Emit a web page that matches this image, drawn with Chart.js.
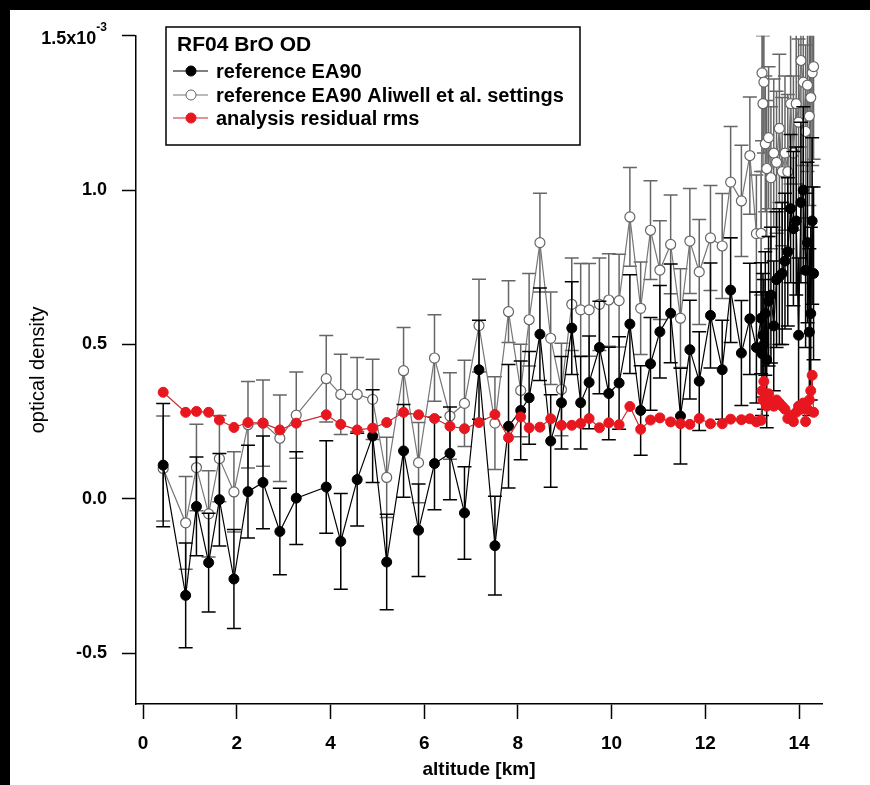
<!DOCTYPE html>
<html>
<head>
<meta charset="utf-8">
<script src="https://cdn.jsdelivr.net/npm/chart.js@4.4.1/dist/chart.umd.min.js"></script>
<style>
  html, body { margin: 0; padding: 0; background: #000; }
  #wrap { position: absolute; left: 10px; top: 10px; width: 860px; height: 775px; background: #fff; }
</style>
</head>
<body>
<div id="wrap"><canvas id="odChart" width="860" height="775"></canvas></div>
<script>
const FONT = "'Liberation Sans', Arial, sans-serif";

// altitude of each spectrum [km]
const altitude = [
  0.43, 0.91, 1.14, 1.40, 1.63, 1.94, 2.24, 2.56, 2.92, 3.27,
  3.91, 4.22, 4.57, 4.90, 5.20, 5.56, 5.88, 6.22, 6.55, 6.86,
  7.17, 7.51, 7.80, 8.06, 8.24, 8.47, 8.70, 8.93, 9.15, 9.34,
  9.52, 9.74, 9.94, 10.16, 10.39, 10.62, 10.83, 11.03, 11.26, 11.47,
  11.67, 11.87, 12.11, 12.36, 12.54, 12.77, 12.95, 13.09, 13.19,
  13.21, 13.23, 13.25, 13.28, 13.31, 13.35, 13.40, 13.46, 13.52, 13.58,
  13.64, 13.70, 13.76, 13.82, 13.88, 13.94, 13.99, 14.04, 14.09, 14.14,
  14.18, 14.22, 14.25, 14.28, 14.31
];

// optical density x 1e-3
const ea90 = [
  0.109, -0.313, -0.025, -0.207, -0.003, -0.26, 0.023, 0.053, -0.106, 0.002,
  0.038, -0.138, 0.062, 0.203, -0.205, 0.155, -0.102, 0.114, 0.147, -0.046,
  0.418, -0.152, 0.235, 0.286, 0.327, 0.533, 0.187, 0.311, 0.553, 0.311,
  0.377, 0.49, 0.341, 0.375, 0.566, 0.286, 0.437, 0.541, 0.601, 0.268,
  0.483, 0.381, 0.594, 0.418, 0.676, 0.472, 0.583, 0.49, 0.585,
  0.47, 0.53, 0.50, 0.60, 0.45, 0.64, 0.66, 0.56, 0.71, 0.72,
  0.73, 0.77, 0.80, 0.94, 0.875, 0.90, 0.53, 0.96, 1.0, 0.74,
  0.83, 0.54, 0.60, 0.90, 0.73
];
const ea90Err = [
  0.20, 0.17, 0.16, 0.16, 0.15, 0.16, 0.15, 0.15, 0.14, 0.15,
  0.15, 0.155, 0.15, 0.15, 0.155, 0.15, 0.15, 0.15, 0.15, 0.15,
  0.16, 0.16, 0.20, 0.16, 0.15, 0.15, 0.15, 0.15, 0.15, 0.15,
  0.15, 0.15, 0.15, 0.15, 0.16, 0.145, 0.15, 0.15, 0.16, 0.155,
  0.16, 0.16, 0.17, 0.16, 0.17, 0.17, 0.18, 0.18, 0.18,
  0.20, 0.20, 0.21, 0.20, 0.22, 0.21, 0.22, 0.21, 0.22, 0.22,
  0.23, 0.22, 0.24, 0.24, 0.25, 0.24, 0.25, 0.26, 0.27, 0.25,
  0.26, 0.27, 0.28, 0.27, 0.28
];

const aliwell = [
  0.098, -0.078, 0.101, -0.049, 0.13, 0.022, 0.24, 0.245, 0.196, 0.271,
  0.389, 0.338, 0.338, 0.322, 0.069, 0.415, 0.117, 0.456, 0.268, 0.309,
  0.561, 0.245, 0.606, 0.351, 0.58, 0.83, 0.52, 0.354, 0.63, 0.612,
  0.612, 0.63, 0.644, 0.642, 0.913, 0.617, 0.87, 0.741, 0.824, 0.585,
  0.835, 0.735, 0.845, 0.819, 1.026, 0.965, 1.112, 0.859, 0.86,
  1.38, 1.28, 1.35, 1.15, 1.07, 1.17, 1.04, 1.12, 1.09, 1.20,
  1.06, 1.12, 1.06, 1.28, 1.12, 1.28, 1.22, 1.42, 1.35, 1.19,
  1.34, 1.24, 1.30, 1.38, 1.40
];
const aliwellErr = [
  0.17, 0.15, 0.14, 0.14, 0.14, 0.13, 0.14, 0.14, 0.14, 0.14,
  0.14, 0.13, 0.12, 0.13, 0.13, 0.14, 0.13, 0.14, 0.14, 0.14,
  0.15, 0.15, 0.10, 0.15, 0.15, 0.16, 0.15, 0.15, 0.15, 0.15,
  0.15, 0.15, 0.15, 0.15, 0.16, 0.15, 0.16, 0.16, 0.16, 0.16,
  0.17, 0.17, 0.17, 0.17, 0.18, 0.18, 0.19, 0.19, 0.20,
  0.22, 0.22, 0.23, 0.22, 0.22, 0.23, 0.23, 0.24, 0.23, 0.24,
  0.24, 0.25, 0.25, 0.26, 0.25, 0.26, 0.27, 0.28, 0.27, 0.28,
  0.28, 0.29, 0.29, 0.30, 0.30
];

const residualRms = [
  0.345, 0.28, 0.283, 0.28, 0.255, 0.231, 0.247, 0.245, 0.223, 0.245,
  0.272, 0.241, 0.223, 0.229, 0.247, 0.28, 0.272, 0.26, 0.235, 0.227,
  0.247, 0.273, 0.198, 0.265, 0.23, 0.232, 0.259, 0.238, 0.238, 0.244,
  0.26, 0.23, 0.246, 0.24, 0.299, 0.225, 0.255, 0.262, 0.249, 0.243,
  0.241, 0.26, 0.243, 0.243, 0.258, 0.256, 0.259, 0.249, 0.254,
  0.35, 0.32, 0.38, 0.33, 0.30, 0.34, 0.31, 0.30, 0.32, 0.31,
  0.30, 0.29, 0.26, 0.27, 0.25, 0.28, 0.30, 0.29, 0.31, 0.25,
  0.29, 0.32, 0.35, 0.40, 0.28
];

const xTicks = [0, 2, 4, 6, 8, 10, 12, 14];
const yTicks = [-0.5, 0, 0.5, 1.0, 1.5];
const yTickLabels = ['-0.5', '0.0', '0.5', '1.0', '1.5x10'];
const yExponent = '-3';
const legendTitle = 'RF04 BrO OD';

const toPoints = (xs, ys) => xs.map((x, i) => ({ x: x, y: ys[i] }));

// vertical error bars with caps, drawn under each dataset's own markers
const errorBars = {
  id: 'errorBars',
  beforeDatasetDraw(chart, args) {
    const ds = chart.data.datasets[args.index];
    if (!ds.errors) return;
    const { ctx, chartArea, scales: { x, y } } = chart;
    ctx.save();
    ctx.beginPath();
    ctx.rect(chartArea.left, chartArea.top, chartArea.right - chartArea.left, chartArea.bottom - chartArea.top);
    ctx.clip();
    ctx.strokeStyle = ds.errorColor;
    ctx.lineWidth = 1.5;
    ds.data.forEach((p, i) => {
      const px = x.getPixelForValue(p.x);
      const top = y.getPixelForValue(p.y + ds.errors[i]);
      const bot = y.getPixelForValue(p.y - ds.errors[i]);
      ctx.beginPath();
      ctx.moveTo(px, top); ctx.lineTo(px, bot);
      ctx.moveTo(px - 7, top); ctx.lineTo(px + 7, top);
      ctx.moveTo(px - 7, bot); ctx.lineTo(px + 7, bot);
      ctx.stroke();
    });
    ctx.restore();
  }
};

// legend box in the top-left corner of the plot + the 1.5x10^-3 tick label
const decorations = {
  id: 'decorations',
  afterDraw(chart) {
    const { ctx, scales: { y } } = chart;
    ctx.save();

    // top tick label with exponent
    const py = y.getPixelForValue(yTicks[yTicks.length - 1]);
    const right = y.right - 14 - 15;
    ctx.fillStyle = '#000';
    ctx.textBaseline = 'middle';
    ctx.textAlign = 'right';
    ctx.font = 'bold 12px ' + FONT;
    const expW = ctx.measureText(yExponent).width;
    ctx.fillText(yExponent, right, py - 8);
    ctx.font = 'bold 18px ' + FONT;
    ctx.fillText(yTickLabels[yTickLabels.length - 1], right - expW, py + 3);

    // legend
    ctx.fillStyle = '#fff';
    ctx.fillRect(156, 17, 414, 118);
    ctx.strokeStyle = '#000';
    ctx.lineWidth = 1.5;
    ctx.strokeRect(156, 17, 414, 118);

    ctx.fillStyle = '#000';
    ctx.textAlign = 'left';
    ctx.font = 'bold 21px ' + FONT;
    ctx.fillText(legendTitle, 167, 35);

    ctx.font = 'bold 20px ' + FONT;
    const rows = [61, 85, 108];
    chart.data.datasets.forEach((ds, i) => {
      const ly = rows[i];
      ctx.strokeStyle = ds.borderColor;
      ctx.lineWidth = 1.2;
      ctx.beginPath();
      ctx.moveTo(163, ly); ctx.lineTo(198, ly);
      ctx.stroke();
      ctx.beginPath();
      ctx.arc(181, ly, 5, 0, Math.PI * 2);
      ctx.fillStyle = ds.pointBackgroundColor;
      ctx.fill();
      ctx.strokeStyle = ds.pointBorderColor;
      ctx.lineWidth = 1;
      ctx.stroke();
      ctx.fillStyle = '#000';
      ctx.fillText(ds.label, 206, ly + 1);
    });
    ctx.restore();
  }
};

const ctx = document.getElementById('odChart').getContext('2d');

new Chart(ctx, {
  type: 'scatter',
  data: {
    datasets: [
      {
        label: 'reference EA90',
        data: toPoints(altitude, ea90),
        errors: ea90Err,
        errorColor: '#000',
        showLine: true,
        borderColor: '#000',
        borderWidth: 1.2,
        pointRadius: 5,
        pointBackgroundColor: '#000',
        pointBorderColor: '#000',
        pointBorderWidth: 1,
        order: 1
      },
      {
        label: 'reference EA90 Aliwell et al. settings',
        data: toPoints(altitude, aliwell),
        errors: aliwellErr,
        errorColor: '#666',
        showLine: true,
        borderColor: '#777',
        borderWidth: 1.2,
        pointRadius: 5,
        pointBackgroundColor: '#fff',
        pointBorderColor: '#666',
        pointBorderWidth: 1.2,
        order: 2
      },
      {
        label: 'analysis residual rms',
        data: toPoints(altitude, residualRms),
        showLine: true,
        borderColor: '#c8282c',
        borderWidth: 1.2,
        pointRadius: 5,
        pointBackgroundColor: '#e8171f',
        pointBorderColor: '#e8171f',
        pointBorderWidth: 1,
        order: 0
      }
    ]
  },
  options: {
    responsive: false,
    animation: false,
    layout: { padding: { top: 23, right: 48, left: 0, bottom: 0 } },
    plugins: {
      legend: { display: false },
      tooltip: { enabled: false }
    },
    scales: {
      x: {
        type: 'linear',
        min: -0.15,
        max: 14.49,
        afterBuildTicks: s => { s.ticks = xTicks.map(v => ({ value: v })); },
        afterFit: s => { s.height = 81; },
        grid: { drawOnChartArea: false, drawTicks: true, tickLength: 15, tickWidth: 1.5, tickColor: '#000' },
        border: { display: true, color: '#000', width: 1.5 },
        ticks: {
          color: '#000',
          padding: 13,
          font: { family: FONT, size: 19, weight: 'bold' },
          callback: v => String(v)
        },
        title: {
          display: true,
          text: 'altitude [km]',
          color: '#000',
          font: { family: FONT, size: 19, weight: 'bold' },
          padding: { top: 0, bottom: 4 }
        }
      },
      y: {
        type: 'linear',
        min: -0.665,
        max: 1.5,
        afterBuildTicks: s => { s.ticks = yTicks.map(v => ({ value: v })); },
        afterFit: s => { s.width = 126; },
        grid: { drawOnChartArea: false, drawTicks: true, tickLength: 14, tickWidth: 1.5, tickColor: '#000' },
        border: { display: true, color: '#000', width: 1.5 },
        ticks: {
          color: '#000',
          padding: 15,
          font: { family: FONT, size: 18, weight: 'bold' },
          callback: (v, i) => (i === yTickLabels.length - 1 ? '' : yTickLabels[i])
        },
        title: {
          display: true,
          text: 'optical density',
          color: '#000',
          font: { family: FONT, size: 20 },
          padding: { top: 16, bottom: 0 }
        }
      }
    }
  },
  plugins: [errorBars, decorations]
});
</script>
</body>
</html>
